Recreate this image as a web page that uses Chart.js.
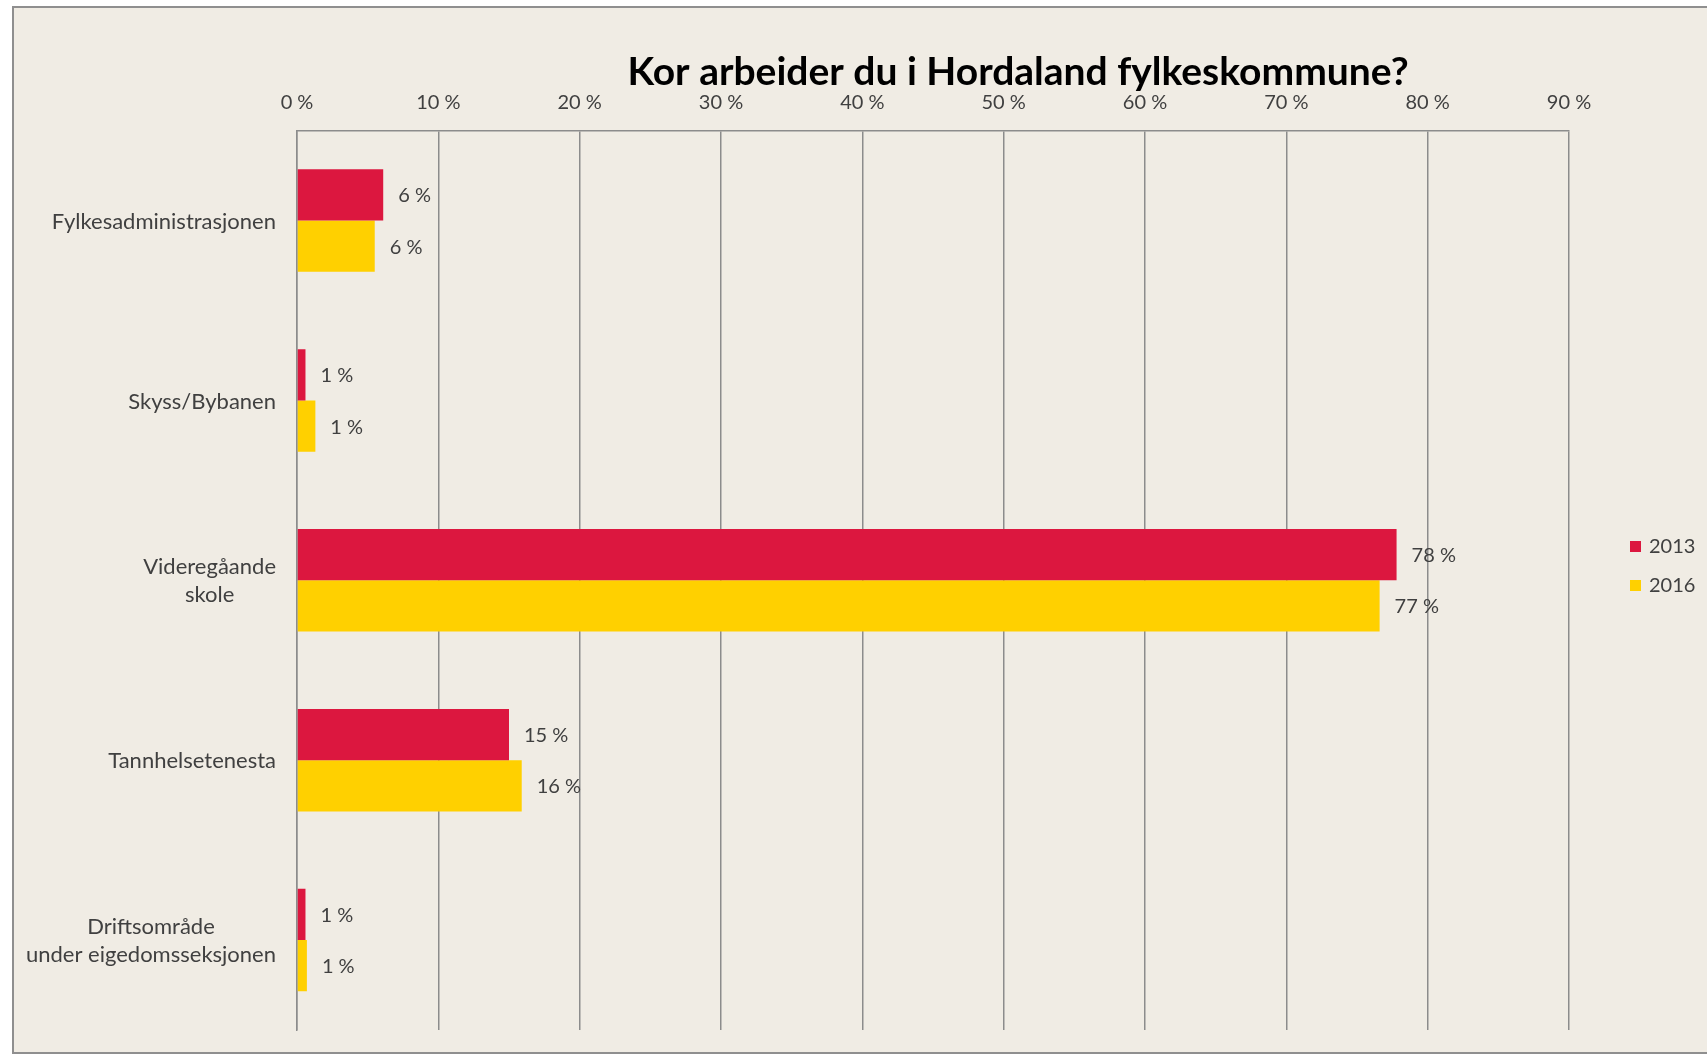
<!DOCTYPE html>
<html>
<head>
<meta charset="utf-8">
<script src="https://cdn.jsdelivr.net/npm/chart.js@4.4.1/dist/chart.umd.min.js"></script>
<style>
html, body { margin: 0; padding: 0; background: #fff; overflow: hidden; }
#frame { position: absolute; left: 12px; top: 6px; width: 1720px; height: 1044px; border: 2px solid #8f8f8f; background: #f0ece4; }
#myChart { position: absolute; left: 0; top: 0; }
</style>
</head>
<body>
<div id="frame"><canvas id="myChart" width="1693" height="1044" style="width:1693px;height:1044px"></canvas></div>
<script>
const categories = [
    ['Fylkesadministrasjonen'],
    ['Skyss/Bybanen'],
    ['Videregåande', 'skole'],
    ['Tannhelsetenesta'],
    ['Driftsområde', 'under eigedomsseksjonen'],
];
const seriesNames = ['2013', '2016'];
const values2013 = [6.1, 0.6, 77.8, 15.0, 0.6];
const values2016 = [5.5, 1.3, 76.6, 15.9, 0.7];
const tickValues = [0, 10, 20, 30, 40, 50, 60, 70, 80, 90];

const red = '#dc173f';
const yellow = '#ffd000';
const gridColor = '#8c8c8c';
const textColor = '#404040';
const fontFamily = 'Lato, "Open Sans", sans-serif';

// labels, title and legend drawn on top of the chart
const decor = {
    id: 'decor',
    afterDatasetsDraw(chart) {
        const ctx = chart.ctx;
        ctx.save();
        ctx.font = '20px ' + fontFamily;
        ctx.fillStyle = textColor;
        ctx.textAlign = 'left';
        ctx.textBaseline = 'middle';
        chart.data.datasets.forEach((ds, i) => {
            chart.getDatasetMeta(i).data.forEach((bar, j) => {
                ctx.fillText(Math.round(ds.data[j]) + ' %', bar.x + 15, bar.y + 1);
            });
        });
        ctx.restore();
    },
    afterDraw(chart) {
        const ctx = chart.ctx;
        const yScale = chart.scales.y;
        ctx.save();

        // category labels: block right aligned, lines centered
        ctx.font = '22px ' + fontFamily;
        ctx.fillStyle = textColor;
        ctx.textAlign = 'center';
        ctx.textBaseline = 'middle';
        const lineH = 28;
        categories.forEach((lines, i) => {
            const cy = yScale.getPixelForValue(i) + 1;
            const w = Math.max(...lines.map(l => ctx.measureText(l).width));
            const cx = 262 - w / 2;
            lines.forEach((l, k) => {
                ctx.fillText(l, cx, cy + (k - (lines.length - 1) / 2) * lineH);
            });
        });

        // title
        ctx.font = 'bold 39px ' + fontFamily;
        ctx.fillStyle = '#000';
        ctx.fillText('Kor arbeider du i Hordaland fylkeskommune?', 1004, 64);

        // legend
        ctx.font = '20px ' + fontFamily;
        ctx.textAlign = 'left';
        chart.data.datasets.forEach((ds, i) => {
            const y = 538.5 + i * 39;
            ctx.fillStyle = ds.backgroundColor;
            ctx.fillRect(1616, y - 5.5, 11, 11);
            ctx.fillStyle = textColor;
            ctx.fillText(ds.label, 1635, y);
        });
        ctx.restore();
    }
};

const data = {
    labels: categories,
    datasets: [{
        label: seriesNames[0],
        backgroundColor: red,
        data: values2013,
    }, {
        label: seriesNames[1],
        backgroundColor: yellow,
        data: values2016,
    }]
};

const config = {
    type: 'bar',
    data: data,
    options: {
        indexAxis: 'y',
        responsive: false,
        animation: false,
        datasets: {
            bar: { categoryPercentage: 0.57, barPercentage: 1.0 }
        },
        layout: { padding: { top: 0, left: 0, right: 138, bottom: 22 } },
        scales: {
            x: {
                position: 'top',
                min: 0,
                max: 90,
                afterBuildTicks: (scale) => { scale.ticks = tickValues.map(v => ({ value: v })); },
                afterFit: (scale) => { scale.height = 122.6; },
                ticks: {
                    callback: (v) => v + ' %',
                    font: { family: fontFamily, size: 20 },
                    color: textColor,
                    padding: 16,
                    maxRotation: 0,
                },
                grid: { color: gridColor, lineWidth: 1.5, drawTicks: false },
                border: { display: true, color: gridColor, width: 1.5 },
            },
            y: {
                afterFit: (scale) => { scale.width = 283; },
                ticks: { display: false },
                grid: { display: false },
                border: { display: true, color: gridColor, width: 1.5 },
            }
        },
        plugins: {
            legend: { display: false },
            title: { display: false },
            tooltip: { enabled: false },
        }
    },
    plugins: [decor]
};

new Chart(
    document.getElementById('myChart'),
    config
);
</script>
</body>
</html>
